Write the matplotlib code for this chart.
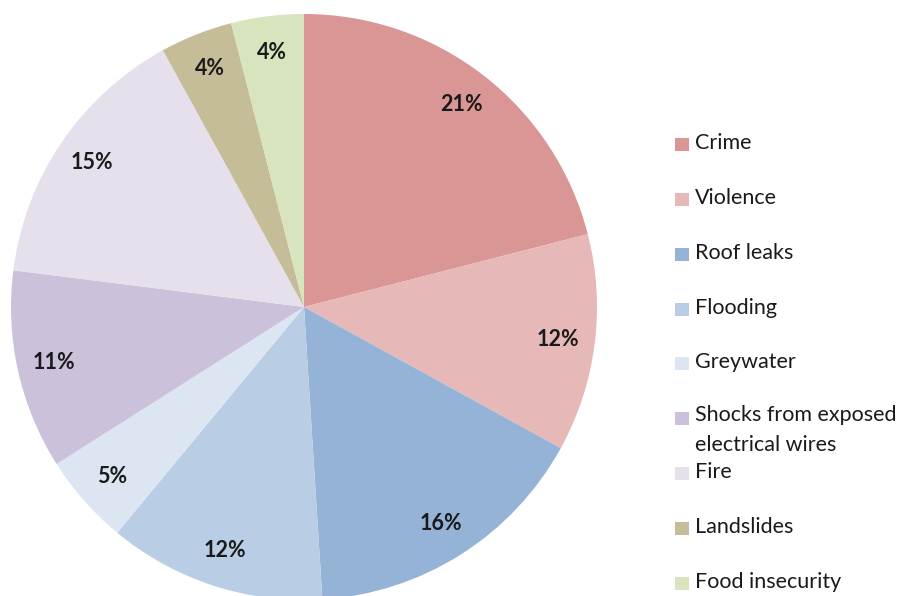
import matplotlib
matplotlib.use("Agg")
import matplotlib.pyplot as plt
from matplotlib.patches import Rectangle

categories = ["Crime", "Violence", "Roof leaks", "Flooding", "Greywater",
              "Shocks from exposed\nelectrical wires", "Fire", "Landslides",
              "Food insecurity"]
shares = [21, 12, 16, 12, 5, 11, 15, 4, 4]
colors = ["#D99694", "#E6B9B8", "#95B3D7", "#B9CDE5", "#DCE6F2",
          "#CCC1DA", "#E6E0EC", "#C4BD97", "#D7E4BD"]

plt.rcParams["font.family"] = ["Lato", "DejaVu Sans"]

W, H = 904, 596
fig = plt.figure(figsize=(W / 100, H / 100), dpi=100)

# pie axes: centre (304, 307) px from the top-left, radius 293 px
cx, cy, r = 304, 307, 293
ax = fig.add_axes([(cx - r) / W, (H - cy - r) / H, 2 * r / W, 2 * r / H])
wedges, texts = ax.pie(
    shares, colors=colors, startangle=90, counterclock=False,
    labels=[f"{v}%" for v in shares], labeldistance=0.875, radius=1.0,
    wedgeprops=dict(linewidth=0),
    textprops=dict(fontsize=15.5, fontweight="bold", color="#1a1a1a",
                   ha="center", va="center"))
ax.set_xlim(-1, 1)
ax.set_ylim(-1, 1)
ax.set_aspect("equal")
ax.axis("off")

# legend drawn on the figure in pixel coordinates
rows_y = [143, 198, 253, 308, 362, 417, 472, 527, 582]
box_x, box_w, box_h = 675, 14, 13
text_x = 695
for name, col, y in zip(categories, colors, rows_y):
    fig.patches.append(Rectangle((box_x / W, (H - y - box_h / 2 - 1) / H),
                                 box_w / W, box_h / H, facecolor=col,
                                 edgecolor="none", transform=fig.transFigure))
    if "\n" in name:
        fig.text(text_x / W, (H - y + 12) / H, name, fontsize=15.5,
                 color="#1a1a1a", ha="left", va="top", linespacing=1.6)
    else:
        fig.text(text_x / W, (H - y) / H, name, fontsize=15.5,
                 color="#1a1a1a", ha="left", va="center")

fig.savefig("out.png", dpi=100, facecolor="white")
